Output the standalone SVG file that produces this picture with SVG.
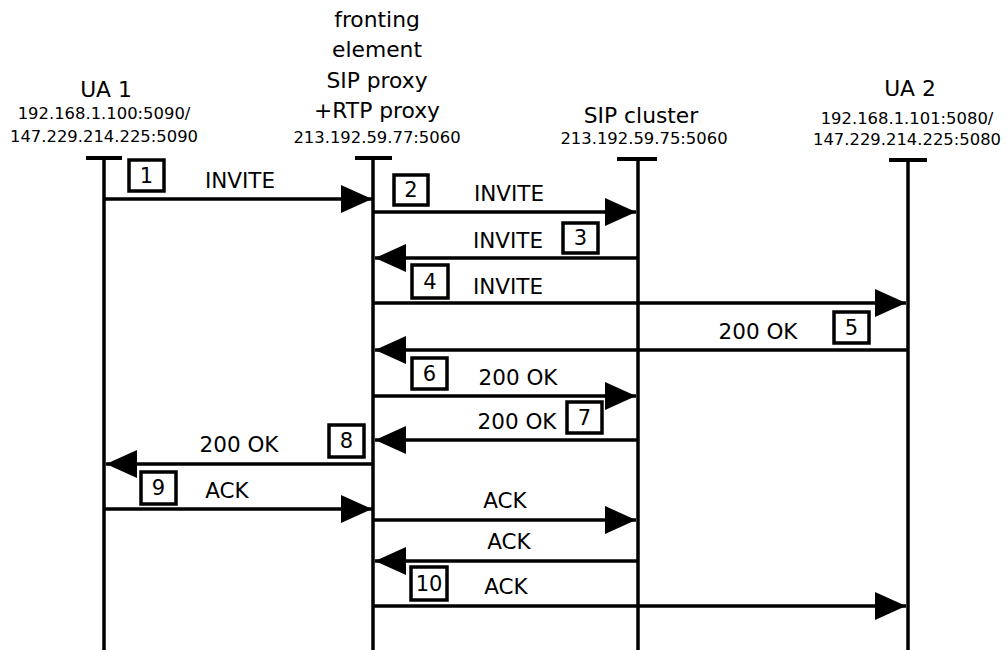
<svg xmlns="http://www.w3.org/2000/svg" width="1007" height="650" viewBox="0 0 1007 650">
<defs>
<marker id="ah" markerUnits="userSpaceOnUse" markerWidth="31" markerHeight="30" refX="31" refY="15" orient="auto">
<path d="M0,1 L31,15 L0,29 z" fill="#000"/>
</marker>
<style>
text{font-family:"DejaVu Sans","Liberation Sans",sans-serif;fill:#000;text-anchor:middle}
.t{font-size:21.8px}
.ip{font-size:16.4px}
.lbl{font-size:21.5px}
.num{font-size:21px}
.life{stroke:#000;stroke-width:3.5;fill:none}
.tick{stroke:#000;stroke-width:4;fill:none}
.msg{stroke:#000;stroke-width:3.5;fill:none;marker-end:url(#ah)}
.box{fill:#fff;stroke:#000;stroke-width:3.5}
</style>
</defs>
<rect width="1007" height="650" fill="#fff"/>
<g id="ua1">
<text class="t" x="106" y="97">UA 1</text>
<text class="ip" x="104" y="119">192.168.1.100:5090/</text>
<text class="ip" x="104" y="142">147.229.214.225:5090</text>
<line class="tick" x1="86" y1="158" x2="122" y2="158"/>
<line class="life" x1="104" y1="158" x2="104" y2="650"/>
</g>
<g id="fronting">
<text class="t" x="377" y="27">fronting</text>
<text class="t" x="377" y="57">element</text>
<text class="t" x="377" y="88">SIP proxy</text>
<text class="t" x="377" y="118">+RTP proxy</text>
<text class="ip" x="377" y="143">213.192.59.77:5060</text>
<line class="tick" x1="355" y1="158" x2="392" y2="158"/>
<line class="life" x1="373" y1="158" x2="373" y2="650"/>
</g>
<g id="sipcluster">
<text class="t" x="641" y="123">SIP cluster</text>
<text class="ip" x="644" y="144">213.192.59.75:5060</text>
<line class="tick" x1="617" y1="159" x2="657" y2="159"/>
<line class="life" x1="638" y1="159" x2="638" y2="650"/>
</g>
<g id="ua2">
<text class="t" x="910" y="96">UA 2</text>
<text class="ip" x="907" y="124">192.168.1.101:5080/</text>
<text class="ip" x="907" y="145">147.229.214.225:5080</text>
<line class="tick" x1="889" y1="160" x2="927" y2="160"/>
<line class="life" x1="908" y1="160" x2="908" y2="650"/>
</g>
<g id="connectors">
<line class="msg" x1="104" y1="199" x2="372" y2="199"/>
<line class="msg" x1="373" y1="212" x2="636" y2="212"/>
<line class="msg" x1="638" y1="258" x2="375" y2="258"/>
<line class="msg" x1="373" y1="303" x2="906" y2="303"/>
<line class="msg" x1="908" y1="350" x2="375" y2="350"/>
<line class="msg" x1="373" y1="396" x2="636" y2="396"/>
<line class="msg" x1="638" y1="440" x2="375" y2="440"/>
<line class="msg" x1="373" y1="464" x2="106" y2="464"/>
<line class="msg" x1="104" y1="509" x2="372" y2="509"/>
<line class="msg" x1="373" y1="520" x2="636" y2="520"/>
<line class="msg" x1="638" y1="561" x2="375" y2="561"/>
<line class="msg" x1="373" y1="606" x2="906" y2="606"/>
<text class="lbl" x="240" y="188">INVITE</text>
<text class="lbl" x="509" y="201">INVITE</text>
<text class="lbl" x="508" y="248">INVITE</text>
<text class="lbl" x="508" y="294">INVITE</text>
<text class="lbl" x="758" y="339">200 OK</text>
<text class="lbl" x="518" y="385">200 OK</text>
<text class="lbl" x="517" y="429">200 OK</text>
<text class="lbl" x="239" y="452">200 OK</text>
<text class="lbl" x="227" y="498">ACK</text>
<text class="lbl" x="505" y="508">ACK</text>
<text class="lbl" x="509" y="549">ACK</text>
<text class="lbl" x="506" y="594">ACK</text>
</g>
<g id="steps">
<rect class="box" x="129" y="160" width="35" height="31"/><text class="num" x="146.5" y="183">1</text>
<rect class="box" x="394" y="175" width="34" height="30"/><text class="num" x="411" y="197">2</text>
<rect class="box" x="563" y="223" width="35" height="30"/><text class="num" x="580.5" y="245">3</text>
<rect class="box" x="412" y="265" width="36" height="33"/><text class="num" x="430" y="289">4</text>
<rect class="box" x="834" y="312" width="35" height="31"/><text class="num" x="851.5" y="335">5</text>
<rect class="box" x="412" y="358" width="35" height="31"/><text class="num" x="429.5" y="381">6</text>
<rect class="box" x="567" y="402" width="35" height="31"/><text class="num" x="584.5" y="425">7</text>
<rect class="box" x="329" y="425" width="35" height="32"/><text class="num" x="346.5" y="448">8</text>
<rect class="box" x="141" y="472" width="35" height="32"/><text class="num" x="158.5" y="495">9</text>
<rect class="box" x="411" y="567" width="36" height="33"/><text class="num" x="429" y="591">10</text>
</g>
</svg>
